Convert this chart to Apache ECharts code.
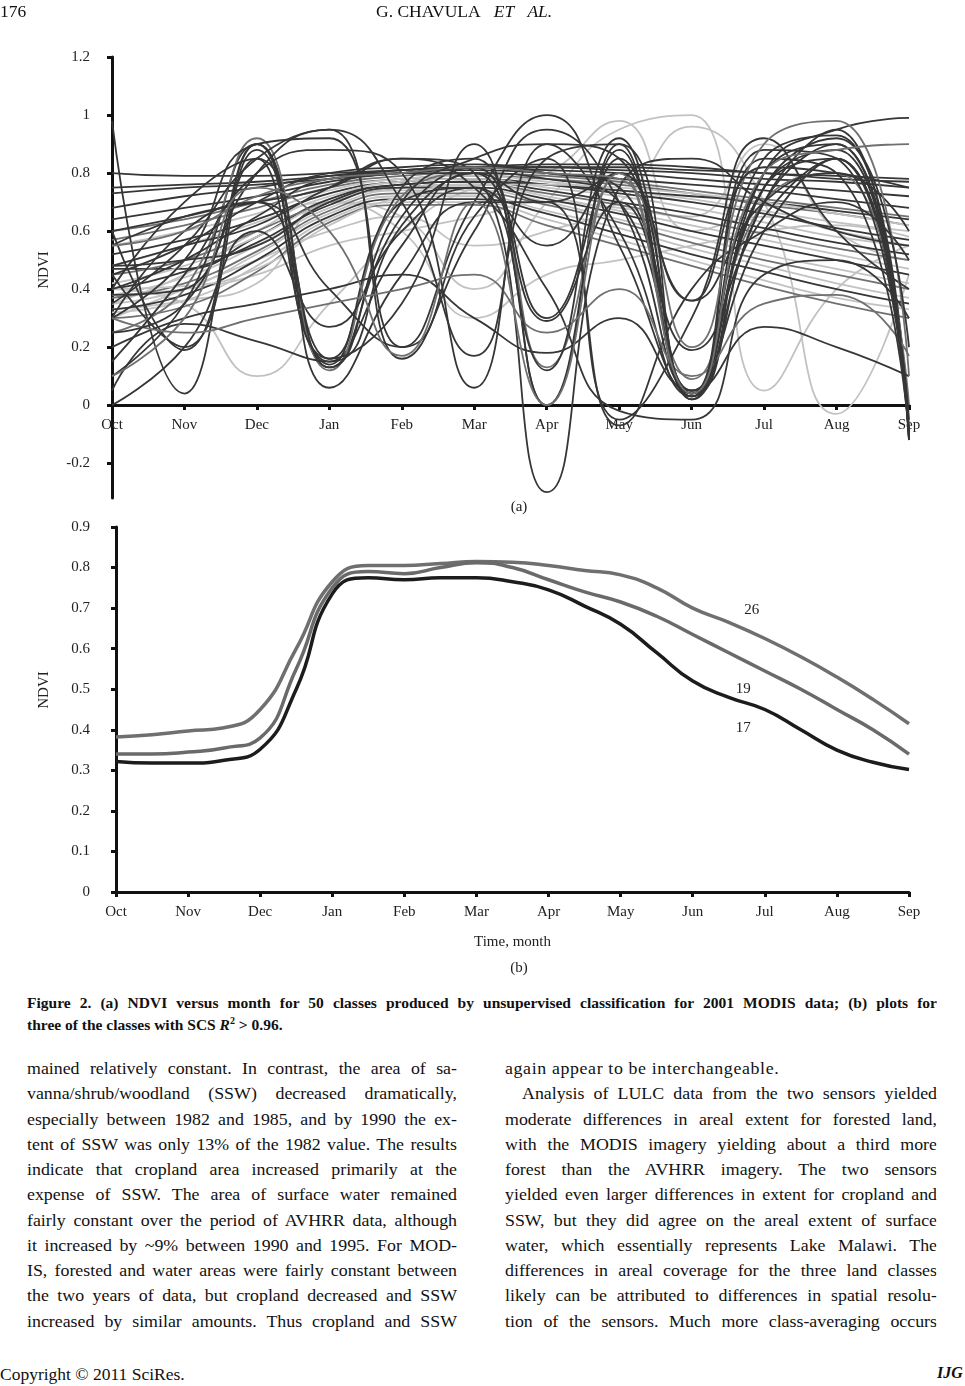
<!DOCTYPE html>
<html><head><meta charset="utf-8">
<script src="https://cdn.jsdelivr.net/npm/echarts@6/dist/echarts.min.js"></script>
<style>
body{margin:0;width:965px;height:1386px;position:relative;background:#fff;font-family:'Liberation Serif','Times New Roman',serif;color:#111;overflow:hidden}
#chart{position:absolute;left:0;top:0;width:965px;height:990px;z-index:1}
.t{position:absolute;white-space:nowrap;z-index:5}
.ln{position:absolute;font-size:17px;line-height:20px;height:20px;overflow:hidden;text-align:justify;text-align-last:justify;transform:scaleX(1.05);transform-origin:0 0;z-index:5}
.lft{text-align:left;text-align-last:left}
.cap{position:absolute;left:27px;width:910px;font-weight:bold;font-size:15.5px;line-height:20px;height:20px;overflow:hidden;text-align:justify;text-align-last:justify;z-index:5}
</style></head>
<body>
<div class="t" style="left:0;top:1px;font-size:17.5px">176</div>
<div class="t" style="left:376px;top:1px;font-size:17.5px">G. CHAVULA&nbsp;&nbsp;&nbsp;<i>ET</i>&nbsp;&nbsp;&nbsp;<i>AL.</i></div>
<div id="chart"></div>
<div class="cap" style="top:993px">Figure 2. (a) NDVI versus month for 50 classes produced by unsupervised classification for 2001 MODIS data; (b) plots for</div>
<div class="cap" style="top:1015px;text-align:left;text-align-last:left">three of the classes with SCS <i>R</i><sup style="font-size:10px;line-height:0">2</sup> &gt; 0.96.</div>
<div id="body"></div>
<div class="t" style="left:0;top:1364px;font-size:17.5px">Copyright © 2011 SciRes.</div>
<div class="t" style="left:937px;top:1364px;font-size:16px;font-weight:bold;font-style:italic">IJG</div>
<script>
// ---------- page text ----------
const leftLines = [
'mained relatively constant. In contrast, the area of sa-',
'vanna/shrub/woodland (SSW) decreased dramatically,',
'especially between 1982 and 1985, and by 1990 the ex-',
'tent of SSW was only 13% of the 1982 value. The results',
'indicate that cropland area increased primarily at the',
'expense of SSW. The area of surface water remained',
'fairly constant over the period of AVHRR data, although',
'it increased by ~9% between 1990 and 1995. For MOD-',
'IS, forested and water areas were fairly constant between',
'the two years of data, but cropland decreased and SSW',
'increased by similar amounts. Thus cropland and SSW'];
const rightLines = [
'again appear to be interchangeable.',
'Analysis of LULC data from the two sensors yielded',
'moderate differences in areal extent for forested land,',
'with the MODIS imagery yielding about a third more',
'forest than the AVHRR imagery. The two sensors',
'yielded even larger differences in extent for cropland and',
'SSW, but they did agree on the areal extent of surface',
'water, which essentially represents Lake Malawi. The',
'differences in areal coverage for the three land classes',
'likely can be attributed to differences in spatial resolu-',
'tion of the sensors. Much more class-averaging occurs'];
(function(){
  const b=document.getElementById('body');
  const S=1.05;
  leftLines.forEach((s,i)=>{const d=document.createElement('div');d.className='ln';d.style.left='27px';d.style.width=(430/S)+'px';d.style.top=(1059+25.25*i)+'px';d.textContent=s;b.appendChild(d);});
  rightLines.forEach((s,i)=>{const d=document.createElement('div');d.className='ln'+(i===0?' lft':'');const ind=(i===1)?17:0;d.style.left=(505+ind)+'px';d.style.width=((432-ind)/S)+'px';d.style.top=(1059+25.25*i)+'px';d.textContent=s;if(i===0)d.style.letterSpacing='0.6px';b.appendChild(d);});
})();

// ---------- chart data ----------
const months = ['Oct','Nov','Dec','Jan','Feb','Mar','Apr','May','Jun','Jul','Aug','Sep'];
const yTicksA = [-0.2,0,0.2,0.4,0.6,0.8,1,1.2];

// (a) 50 classes, monthly NDVI (Oct..Sep)
const stableClassesA = [
[0.73,0.75,0.76,0.78,0.80,0.82,0.83,0.83,0.82,0.80,0.79,0.78],
[0.75,0.76,0.77,0.79,0.81,0.82,0.82,0.81,0.80,0.78,0.77,0.75],
[0.68,0.72,0.75,0.79,0.81,0.82,0.81,0.80,0.78,0.76,0.74,0.72],
[0.64,0.68,0.72,0.77,0.80,0.81,0.80,0.78,0.76,0.74,0.71,0.68],
[0.60,0.64,0.70,0.76,0.79,0.80,0.79,0.77,0.74,0.71,0.68,0.65],
[0.57,0.62,0.68,0.75,0.78,0.79,0.78,0.76,0.73,0.69,0.66,0.62],
[0.55,0.60,0.66,0.74,0.78,0.79,0.77,0.74,0.71,0.67,0.63,0.60],
[0.52,0.57,0.64,0.73,0.77,0.78,0.76,0.73,0.70,0.66,0.61,0.57],
[0.48,0.55,0.63,0.72,0.77,0.78,0.75,0.72,0.68,0.63,0.58,0.55],
[0.47,0.47,0.58,0.71,0.76,0.77,0.74,0.70,0.66,0.61,0.56,0.52],
[0.45,0.50,0.60,0.70,0.75,0.76,0.73,0.69,0.64,0.59,0.54,0.50],
[0.42,0.48,0.58,0.70,0.75,0.76,0.72,0.67,0.62,0.57,0.52,0.47],
[0.40,0.46,0.56,0.69,0.75,0.75,0.71,0.66,0.60,0.55,0.50,0.45],
[0.38,0.44,0.55,0.68,0.74,0.74,0.70,0.64,0.58,0.52,0.47,0.42],
[0.37,0.42,0.53,0.67,0.73,0.73,0.69,0.63,0.56,0.50,0.45,0.40],
[0.35,0.40,0.52,0.66,0.72,0.72,0.67,0.61,0.54,0.48,0.42,0.37],
[0.33,0.38,0.50,0.65,0.71,0.71,0.66,0.59,0.52,0.46,0.40,0.35],
[0.32,0.36,0.48,0.64,0.70,0.70,0.64,0.57,0.50,0.43,0.37,0.33],
[0.30,0.34,0.46,0.63,0.69,0.69,0.62,0.55,0.48,0.41,0.35,0.30],
[0.48,0.50,0.55,0.70,0.76,0.77,0.76,0.74,0.72,0.70,0.67,0.64],
[0.80,0.79,0.79,0.80,0.81,0.82,0.82,0.82,0.81,0.80,0.78,0.77],
[0.40,0.41,0.47,0.62,0.72,0.76,0.76,0.75,0.73,0.70,0.66,0.62]];
const oscillatingClassesA = [
[0.98,0.04,0.85,0.15,0.55,0.80,0.70,0.80,0.05,0.60,0.85,-0.10],
[0.60,0.19,0.90,0.13,0.65,0.82,0.30,0.85,0.03,0.75,0.88,-0.12],
[0.45,0.20,0.88,0.14,0.70,0.75,0.00,0.90,0.04,0.80,0.90,-0.12],
[0.10,0.35,0.90,0.16,0.75,0.85,0.00,0.88,0.02,0.85,0.93,-0.10],
[0.25,0.40,0.92,0.12,0.72,0.80,0.13,0.80,0.09,0.70,0.80,0.00],
[0.05,0.28,0.22,0.15,0.62,0.80,0.29,0.70,0.19,0.65,0.85,-0.05],
[0.00,0.20,0.60,0.27,0.60,0.75,0.55,0.80,0.36,0.70,0.80,0.60],
[0.35,0.55,0.85,0.95,0.16,0.60,0.95,0.70,0.05,0.75,0.85,-0.12],
[0.30,0.50,0.90,0.92,0.20,0.70,1.00,0.55,0.04,0.80,0.95,0.99],
[0.15,0.45,0.80,0.88,0.80,0.06,0.90,0.60,0.03,0.70,0.90,-0.08],
[0.55,0.65,0.70,0.75,0.85,0.80,-0.30,0.75,0.85,0.70,0.60,0.55],
[0.40,0.70,0.85,0.06,0.45,0.70,0.70,-0.07,0.40,0.60,0.70,0.50],
[0.30,0.60,0.70,0.40,0.20,0.65,0.85,-0.05,0.30,0.92,0.60,0.40],
[0.48,0.55,0.62,0.75,0.85,0.75,0.40,-0.02,-0.05,0.45,0.50,0.30],
[0.20,0.30,0.35,0.40,0.45,0.30,0.18,0.30,0.05,0.27,0.20,0.10],
[0.30,0.25,0.30,0.35,0.40,0.45,0.25,0.40,0.10,0.35,0.38,0.17],
[0.45,0.55,0.70,0.80,0.82,0.83,0.80,0.75,0.04,0.88,0.85,-0.12],
[0.40,0.50,0.65,0.78,0.80,0.80,0.78,0.70,0.03,0.85,0.80,-0.10],
[0.55,0.60,0.72,0.78,0.80,0.82,0.80,0.78,0.20,0.90,0.98,0.10],
[0.60,0.65,0.70,0.13,0.70,0.85,0.90,0.85,0.05,0.75,0.92,0.20],
[0.38,0.40,0.90,0.16,0.35,0.90,0.12,0.92,0.36,0.82,0.80,0.75],
[0.25,0.35,0.80,0.95,0.70,0.17,0.85,0.90,0.02,0.70,0.95,-0.12],
[0.10,0.30,0.75,0.60,0.17,0.70,0.00,0.80,0.04,0.80,0.88,0.90]];
const paleClassesA = [
[0.40,0.35,0.10,0.35,0.60,0.75,0.80,0.98,0.60,0.65,0.60,0.55],
[0.35,0.45,0.60,0.70,0.65,0.40,0.70,0.95,1.00,0.05,0.40,0.55],
[0.30,0.40,0.50,0.60,0.65,0.55,0.60,0.70,0.96,0.70,-0.03,0.45],
[0.38,0.40,0.45,0.55,0.60,0.65,0.70,0.68,0.65,0.90,0.60,0.50],
[0.33,0.36,0.42,0.70,0.60,0.30,0.45,0.50,0.55,0.60,0.62,0.58]];

// (b) three classes, read twice a month (month index, 0 = Oct)
const timeB = [0,0.5,1,1.5,2,2.5,3,3.5,4,4.5,5,5.5,6,6.5,7,7.5,8,8.5,9,9.5,10,10.5,11];
const class26 = [0.382,0.388,0.397,0.405,0.45,0.60,0.765,0.805,0.805,0.81,0.815,0.813,0.805,0.793,0.782,0.75,0.70,0.665,0.625,0.58,0.53,0.475,0.415];
const class19 = [0.34,0.34,0.345,0.355,0.38,0.55,0.75,0.79,0.785,0.80,0.812,0.80,0.77,0.74,0.715,0.68,0.635,0.59,0.545,0.50,0.45,0.40,0.34];
const class17 = [0.322,0.318,0.318,0.325,0.352,0.50,0.735,0.775,0.77,0.775,0.775,0.765,0.745,0.705,0.66,0.59,0.52,0.48,0.45,0.40,0.35,0.32,0.302];
const labelsB = ['26','19','17'];

// ---------- styles ----------
const SHADE = {d:'#363636', m:'#707070', l:'#c2c2c2'};
const stableShades = ['d','d','d','d','m','m','l','d','l','d','m','l','d','l','m','l','d','l','m','d','d','l'];
const oscShades = ['d','d','d','d','m','d','d','d','d','d','d','d','d','d','d','m','d','d','m','d','d','d','m'];
const FONT = "'Liberation Serif','Times New Roman',serif";
const AX = {color:'#111', width:3};

const chart = echarts.init(document.getElementById('chart'), null, {renderer:'canvas'});
const seriesA = [];
function addA(arr, shades){
  arr.forEach((vals,i)=>{
    seriesA.push({type:'line', xAxisIndex:0, yAxisIndex:0, smooth:0.5, symbol:'none',
      lineStyle:{color:SHADE[shades[i]], width:1.8},
      data: vals.map((v,k)=>[k,v]), z:2});
  });
}
addA(paleClassesA, paleClassesA.map(()=>'l'));
addA(stableClassesA, stableShades);
addA(oscillatingClassesA, oscShades);

const bColors = ['#6f6f6f','#6a6a6a','#1c1c1c'];
const bVals = [class26, class19, class17];
const bLabelPos = [[8.82,0.695],[8.7,0.50],[8.7,0.405]];
const seriesB = bVals.map((vals,i)=>({
  type:'line', xAxisIndex:1, yAxisIndex:1, smooth:0.5, symbol:'none',
  lineStyle:{color:bColors[i], width:3.5},
  data: vals.map((v,k)=>[timeB[k],v]),
  markPoint:{symbol:'rect', symbolSize:1, itemStyle:{color:'rgba(0,0,0,0)'},
    label:{show:true, position:'inside', formatter:labelsB[i], color:'#222', fontFamily:FONT, fontSize:15},
    data:[{coord:bLabelPos[i]}]}
}));

const monthLabel = v => months[Math.round(v)] || '';
chart.setOption({
  animation:false,
  backgroundColor:'#fff',
  textStyle:{fontFamily:FONT},
  grid:[{left:112, top:57, width:797, height:441},
        {left:116, top:527, width:793, height:365}],
  xAxis:[
    {type:'value', gridIndex:0, min:0, max:11, interval:1, offset:-93,
     axisLine:{show:true, onZero:false, lineStyle:AX},
     axisTick:{show:true, length:5, lineStyle:AX},
     axisLabel:{formatter:monthLabel, fontSize:15, color:'#222', margin:13, fontFamily:FONT},
     splitLine:{show:false}},
    {type:'value', gridIndex:1, min:0, max:11, interval:1,
     axisLine:{show:true, lineStyle:AX},
     axisTick:{show:true, length:5, lineStyle:AX},
     axisLabel:{formatter:monthLabel, fontSize:15, color:'#222', margin:13, fontFamily:FONT},
     splitLine:{show:false},
     name:'Time, month', nameLocation:'middle', nameGap:43,
     nameTextStyle:{fontSize:15, color:'#222', fontFamily:FONT}}
  ],
  yAxis:[
    {type:'value', gridIndex:0, min:-0.32, max:1.2,
     axisLine:{show:true, onZero:false, lineStyle:AX},
     axisTick:{show:true, length:5, lineStyle:AX, customValues:yTicksA},
     axisLabel:{customValues:yTicksA, formatter:v=>String(Math.round(v*10)/10), fontSize:15, color:'#222', margin:22, fontFamily:FONT},
     splitLine:{show:false}},
    {type:'value', gridIndex:1, min:0, max:0.9, interval:0.1,
     axisLine:{show:true, lineStyle:AX},
     axisTick:{show:true, length:5, lineStyle:AX},
     axisLabel:{formatter:v=>String(Math.round(v*10)/10), fontSize:15, color:'#222', margin:26, fontFamily:FONT},
     splitLine:{show:false}}
  ],
  graphic:[
    {type:'text', x:44, y:270, rotation:Math.PI/2, style:{text:'NDVI', fontSize:15, fontFamily:FONT, fill:'#222', align:'center', verticalAlign:'middle'}},
    {type:'text', x:44, y:690, rotation:Math.PI/2, style:{text:'NDVI', fontSize:15, fontFamily:FONT, fill:'#222', align:'center', verticalAlign:'middle'}},
    {type:'text', x:519, y:507, style:{text:'(a)', fontSize:15, fontFamily:FONT, fill:'#222', align:'center', verticalAlign:'middle'}},
    {type:'text', x:519, y:968, style:{text:'(b)', fontSize:15, fontFamily:FONT, fill:'#222', align:'center', verticalAlign:'middle'}}
  ],
  series: seriesA.concat(seriesB)
});
</script>
</body></html>
